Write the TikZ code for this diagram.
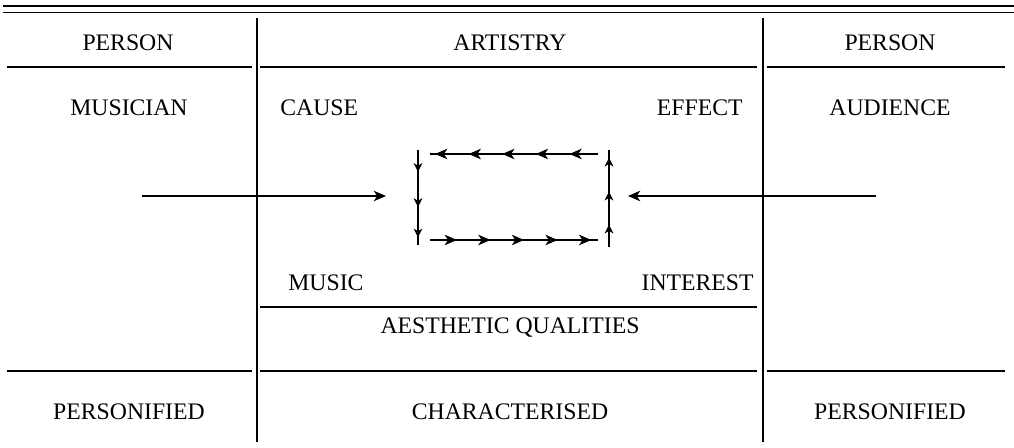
\documentclass[tikz,border=0pt]{standalone}
\usepackage{fontspec}
\setmainfont{Liberation Serif}
\usetikzlibrary{arrows.meta,decorations.markings}

\begin{document}
\begin{tikzpicture}[x=0.02cm,y=-0.02cm,
		lbl/.style={font=\fontsize{13.5}{15}\selectfont,inner sep=0pt},
		rule/.style={line width=0.6pt},
		tip/.style={-{Stealth[length=7pt,width=6pt,inset=2pt]}},
		flowmarks/.style={rule,postaction=decorate,decoration={markings,#1}}]
				\useasboundingbox (0,0) rectangle (1014,448);
				
				% double rule on top
				\draw[line width=1pt] (3,6) -- (1014,6);
				\draw[line width=0.5pt] (3,12) -- (1014,12);
				
				% column rules
				\draw[rule] (257,18) -- (257,442);
				\draw[rule] (763,18) -- (763,442);
				
				% row rules
				\draw[rule] (7,67) -- (252,67);
				\draw[rule] (260,67) -- (757,67);
				\draw[rule] (767,67) -- (1005,67);
				\draw[rule] (260,307) -- (757,307);
				\draw[rule] (7,371) -- (252,371);
				\draw[rule] (260,371) -- (757,371);
				\draw[rule] (767,371) -- (1005,371);
				
				% headings
				\node[lbl,anchor=base] (hdrL) at (128,51) {PERSON};
				\node[lbl,anchor=base] (hdrM) at (510,51) {ARTISTRY};
				\node[lbl,anchor=base] (hdrR) at (890,51) {PERSON};
				
				\node[lbl,anchor=base] (musician) at (129,116) {MUSICIAN};
				\node[lbl,anchor=base west] (cause) at (280,116) {CAUSE};
				\node[lbl,anchor=base east] (effect) at (743,116) {EFFECT};
				\node[lbl,anchor=base] (audience) at (890,116) {AUDIENCE};
				
				\node[lbl,anchor=base west] (music) at (288,291) {MUSIC};
				\node[lbl,anchor=base east] (interest) at (754,291) {INTEREST};
				\node[lbl,anchor=base] (aesth) at (510,334) {AESTHETIC QUALITIES};
				
				\node[lbl,anchor=base] (persL) at (129,420) {PERSONIFIED};
				\node[lbl,anchor=base] (charac) at (510,420) {CHARACTERISED};
				\node[lbl,anchor=base] (persR) at (890,420) {PERSONIFIED};
				
				% in and out
				\coordinate (musOut) at (142,196);
				\coordinate (loopIn) at (386,196);
				\coordinate (audOut) at (876,196);
				\coordinate (loopOut) at (628,196);
				\draw[rule,tip] (musOut) -- (loopIn);
				\draw[rule,tip] (audOut) -- (loopOut);
				
				% the loop
				\coordinate (tl) at (430,154);
				\coordinate (tr) at (598,154);
				\coordinate (bl) at (430,240);
				\coordinate (br) at (598,240);
				\coordinate (lt) at (418,150);
				\coordinate (lb) at (418,245);
				\coordinate (rt) at (609,150);
				\coordinate (rb) at (609,247);
				\draw[flowmarks={mark=between positions 0.17 and 0.97 step 0.2 with {\arrow{Stealth[length=7pt,width=6pt,inset=2pt]}}}] (tr) -- (tl);
				\draw[flowmarks={mark=between positions 0.16 and 0.96 step 0.2 with {\arrow{Stealth[length=7pt,width=6pt,inset=2pt]}}}] (bl) -- (br);
				\draw[flowmarks={mark=at position 0.23 with {\arrow{Stealth[length=5pt,width=5pt,inset=1.5pt]}},mark=at position 0.6 with {\arrow{Stealth[length=5pt,width=5pt,inset=1.5pt]}},mark=at position 0.92 with {\arrow{Stealth[length=5pt,width=5pt,inset=1.5pt]}}}] (lt) -- (lb);
				\draw[flowmarks={mark=at position 0.23 with {\arrow{Stealth[length=5pt,width=5pt,inset=1.5pt]}},mark=at position 0.57 with {\arrow{Stealth[length=5pt,width=5pt,inset=1.5pt]}},mark=at position 0.92 with {\arrow{Stealth[length=5pt,width=5pt,inset=1.5pt]}}}] (rb) -- (rt);
			\end{tikzpicture}
\end{document}
